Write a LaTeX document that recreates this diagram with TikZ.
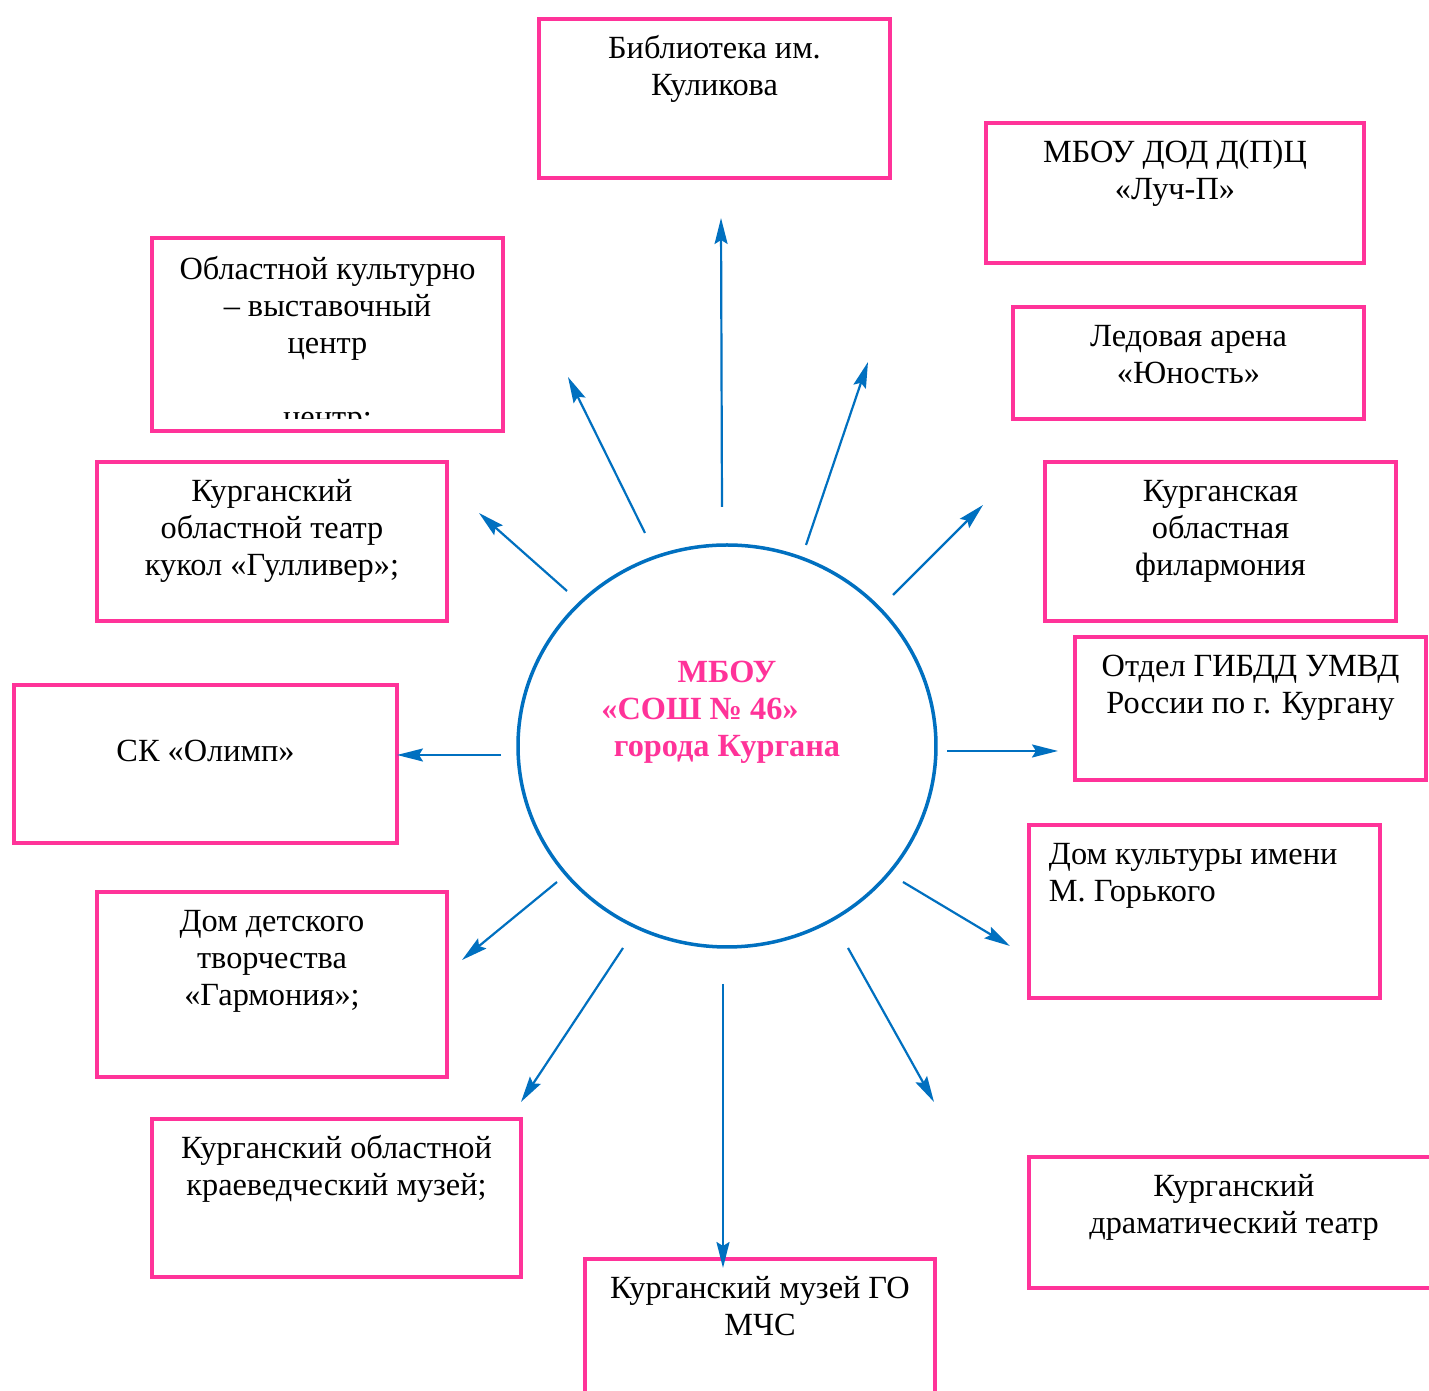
\documentclass[tikz,border=0pt]{standalone}
\usepackage{fontspec}
\setmainfont{Liberation Serif}
\usetikzlibrary{arrows.meta,shapes.geometric}

\definecolor{boxpink}{RGB}{255,51,153}
\definecolor{linkblue}{RGB}{0,112,192}

% text of a box: width, height, lines
\newcommand{\boxtxt}[3]{\parbox[t][#2][t]{#1}{\centering\vspace*{1.4mm}\strut #3}}
\newcommand{\boxtxtl}[3]{\parbox[t][#2][t]{#1}{\raggedright\leftskip=2mm\vspace*{1.4mm}\strut #3}}

\tikzset{
  orgbox/.style={draw=boxpink, line width=0.4mm, inner sep=0pt, anchor=north west},
  school/.style={draw=linkblue, ellipse, line width=0.35mm, inner sep=0pt,
    minimum width=41.8mm, minimum height=40.2mm, align=center,
    text=boxpink, font=\fontsize{9.2}{10.5}\selectfont\bfseries},
  link/.style={draw=linkblue, line width=0.22mm,
    -{Stealth[length=2.6mm,width=1.3mm,inset=0.4mm]}},
}

\begin{document}
\begin{tikzpicture}[x=0.1mm,y=-0.1mm,font=\fontsize{9.2}{10.5}\selectfont]
\path[use as bounding box,clip] (0,0) rectangle (1429,1391);
\fill[white] (0,0) rectangle (1429,1391);

% centre
\node[school] (sch) at (727,746) {МБОУ\\«СОШ № 46»\hspace{5.4mm}\mbox{}\\города Кургана\\ \mbox{}\\ \mbox{}};

% boxes
\node[orgbox] (bibl) at (537,17) {\boxtxt{35.1mm}{15.9mm}{Библиотека им.\\Куликова}};
\node[orgbox] (luch) at (984,121) {\boxtxt{37.8mm}{14.0mm}{МБОУ ДОД Д(П)Ц\\«Луч-П»}};
\node[orgbox] (arena) at (1011,305) {\boxtxt{35.1mm}{11.2mm}{Ледовая арена\\«Юность»}};
\node[orgbox] (filarm) at (1043,460) {\boxtxt{35.1mm}{15.9mm}{Курганская\\областная\\филармония}};
\node[orgbox] (gibdd) at (1073,635) {\boxtxt{35.1mm}{14.3mm}{Отдел ГИБДД УМВД\\России по г. Кургану}};
\node[orgbox] (dk) at (1027,823) {\boxtxtl{35.1mm}{17.3mm}{Дом культуры имени\\М. Горького}};
\node[orgbox] (dramteatr) at (1027,1155) {\boxtxt{41.0mm}{13.1mm}{Курганский\\драматический театр}};
\node[orgbox] (muzmchs) at (583,1257) {\boxtxt{35.0mm}{16.3mm}{Курганский музей ГО\\МЧС}};
\node[orgbox] (kraeved) at (150,1117) {\boxtxt{36.9mm}{15.8mm}{Курганский областной\\краеведческий музей;}};
\node[orgbox] (ddt) at (95,890) {\boxtxt{35.0mm}{18.5mm}{Дом детского\\творчества\\«Гармония»;}};
\node[orgbox] (olimp) at (12,683) {\boxtxt{38.3mm}{15.8mm}{\mbox{}\\СК «Олимп»}};
\node[orgbox] (gulliver) at (95,460) {\boxtxt{35.0mm}{15.9mm}{Курганский\\областной театр\\кукол «Гулливер»;}};
\node[orgbox, minimum width=35.1mm, minimum height=19.3mm,
  path picture={
    \clip (path picture bounding box.north west) rectangle ([yshift=1.2mm]path picture bounding box.south east);
    \node[anchor=north, inner sep=0pt] (oblcentr-txt) at (path picture bounding box.north)
      {\boxtxt{35.1mm}{19.3mm}{Областной культурно\\– выставочный\\центр\\ \mbox{}\\центр;}};
  }] (oblcentr) at (150,236) {};

% arrows
\coordinate (bibl-from) at (722,507);      \coordinate (bibl-to) at (721,218);
\coordinate (luch-from) at (806,545);      \coordinate (luch-to) at (868,362);
\coordinate (filarm-from) at (893,595);    \coordinate (filarm-to) at (983,505);
\coordinate (gibdd-from) at (947,751);     \coordinate (gibdd-to) at (1058,751);
\coordinate (dk-from) at (903,882);        \coordinate (dk-to) at (1010,946);
\coordinate (dram-from) at (848,948);      \coordinate (dram-to) at (934,1102);
\coordinate (mchs-from) at (723,984);      \coordinate (mchs-to) at (723,1268);
\coordinate (kraeved-from) at (623,948);   \coordinate (kraeved-to) at (521,1102);
\coordinate (ddt-from) at (557,882);       \coordinate (ddt-to) at (462,960);
\coordinate (olimp-from) at (501,755);     \coordinate (olimp-to) at (397,755);
\coordinate (gulliver-from) at (567,591);  \coordinate (gulliver-to) at (479,513);
\coordinate (oblcentr-from) at (645,533);  \coordinate (oblcentr-to) at (568,377);

\draw[link] (bibl-from) -- (bibl-to);
\draw[link] (luch-from) -- (luch-to);
\draw[link] (filarm-from) -- (filarm-to);
\draw[link] (gibdd-from) -- (gibdd-to);
\draw[link] (dk-from) -- (dk-to);
\draw[link] (dram-from) -- (dram-to);
\draw[link] (mchs-from) -- (mchs-to);
\draw[link] (kraeved-from) -- (kraeved-to);
\draw[link] (ddt-from) -- (ddt-to);
\draw[link] (olimp-from) -- (olimp-to);
\draw[link] (gulliver-from) -- (gulliver-to);
\draw[link] (oblcentr-from) -- (oblcentr-to);
\end{tikzpicture}
\end{document}
